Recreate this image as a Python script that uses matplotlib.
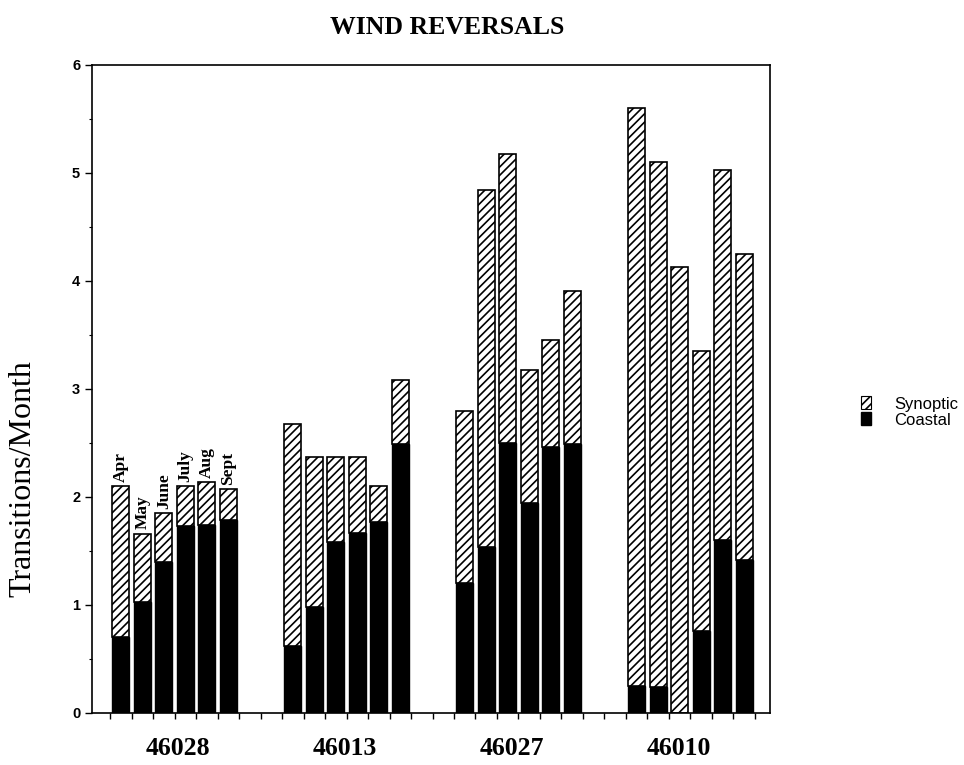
import matplotlib
matplotlib.use("Agg")
import matplotlib.pyplot as plt
from matplotlib.patches import Patch
import numpy as np

stations = ["46028", "46013", "46027", "46010"]
months = ["Apr", "May", "June", "July", "Aug", "Sept"]

# total height of each stacked bar (Transitions/Month), Apr..Sept
total_46028 = [2.10, 1.66, 1.85, 2.10, 2.14, 2.07]
total_46013 = [2.68, 2.37, 2.37, 2.37, 2.10, 3.08]
total_46027 = [2.80, 4.84, 5.18, 3.18, 3.45, 3.91]
total_46010 = [5.60, 5.10, 4.13, 3.35, 5.03, 4.25]

# coastal part (bottom, black)
coastal_46028 = [0.70, 1.03, 1.40, 1.73, 1.74, 1.79]
coastal_46013 = [0.62, 0.98, 1.58, 1.67, 1.77, 2.49]
coastal_46027 = [1.20, 1.54, 2.50, 1.94, 2.46, 2.49]
coastal_46010 = [0.25, 0.24, 0.00, 0.76, 1.60, 1.42]

totals = [total_46028, total_46013, total_46027, total_46010]
coastals = [coastal_46028, coastal_46013, coastal_46027, coastal_46010]

serif = ["Liberation Serif", "DejaVu Serif"]
sans = ["Liberation Sans", "DejaVu Sans"]
plt.rcParams['hatch.linewidth'] = 1.2
plt.rcParams['font.family'] = sans

fig = plt.figure(figsize=(9.64, 7.65), dpi=100)
ax = fig.add_axes([92/964, 1 - 713/765, (770-92)/964, (713-65)/765])

slots_per_group = 8
bw = 0.80
for g, (tot, coa) in enumerate(zip(totals, coastals)):
    tot = np.array(tot)
    coa = np.array(coa)
    syn = tot - coa
    x = g * slots_per_group + np.arange(len(months)) + 0.5
    ax.bar(x, coa, width=bw, color="black", edgecolor="black", linewidth=1.0)
    ax.bar(x, syn, bottom=coa, width=bw, color="white", edgecolor="black",
           linewidth=1.2, hatch="////")
    if g == 0:
        for xi, ti, m in zip(x, tot, months):
            ax.text(xi, ti + 0.04, m, rotation=90, ha="center", va="bottom",
                    family=serif, fontweight="bold", fontsize=12.5)

ax.set_xlim(-0.84, 30.7)
ax.set_ylim(0, 6)
ax.set_xticks(np.arange(0, 31))
ax.set_xticklabels([])
ax.tick_params(axis="x", direction="out", length=4, width=1)
ax.set_yticks(np.arange(0, 7))
ax.set_yticks(np.arange(0.5, 6, 1), minor=True)
ax.tick_params(axis="y", which="major", direction="out", length=5, width=1,
               labelsize=10.5)
ax.tick_params(axis="y", which="minor", direction="out", length=2.5, width=0.8)
for lab in ax.get_yticklabels():
    lab.set_fontweight("bold")
for sp in ax.spines.values():
    sp.set_linewidth(1.2)

# group labels (placed slightly left of the group centres, as in the original)
for g, s in enumerate(stations):
    ax.text(3.16 + g * 7.76, -0.33, s, ha="center", va="center",
            family=serif, fontweight="bold", fontsize=18.5,
            transform=ax.transData, clip_on=False)

ax.set_ylabel("Transitions/Month", family=serif, fontsize=23, va="center")
ax.yaxis.set_label_coords((23 - 92) / 678, (713 - 479) / 648)
fig.text(447/964, 1 - 27/765, "WIND REVERSALS", ha="center", va="center",
         family=serif, fontweight="bold", fontsize=18.5)

handles = [Patch(facecolor="white", edgecolor="black", hatch="////", linewidth=0.8),
           Patch(facecolor="black", edgecolor="black")]
fig.legend(handles, ["Synoptic", "Coastal"], loc="center left",
           bbox_to_anchor=(861/964, 1 - 412/765), frameon=False,
           handlelength=0.6, handleheight=0.8, labelspacing=0.05,
           handletextpad=1.4, fontsize=12, borderaxespad=0, borderpad=0)

fig.savefig("out.png", dpi=100)
